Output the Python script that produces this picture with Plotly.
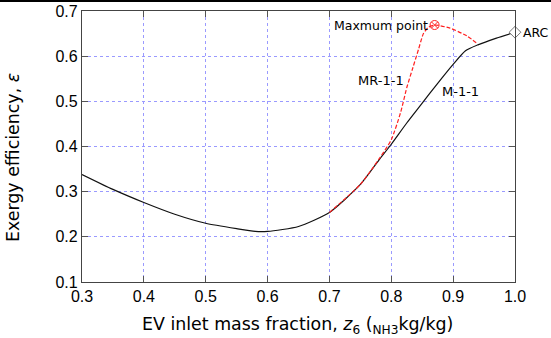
import plotly.graph_objects as go

# M-1-1 cycle: exergy efficiency vs EV inlet mass fraction
z_m11 = [0.30, 0.35, 0.40, 0.45, 0.50, 0.55, 0.58, 0.60, 0.65, 0.70, 0.75,
         0.78, 0.80, 0.825, 0.85, 0.875, 0.90, 0.92, 0.94, 0.97, 1.00]
eff_m11 = [0.338, 0.305, 0.276, 0.250, 0.230, 0.218, 0.212, 0.212, 0.223, 0.254, 0.316,
           0.370, 0.405, 0.452, 0.496, 0.540, 0.582, 0.612, 0.625, 0.640, 0.653]

# MR-1-1 cycle
z_mr11 = [0.70, 0.75, 0.78, 0.80, 0.815, 0.825, 0.835, 0.844, 0.852, 0.860,
          0.870, 0.895, 0.922, 0.940]
eff_mr11 = [0.254, 0.316, 0.372, 0.415, 0.475, 0.530, 0.575, 0.615, 0.650, 0.664,
            0.669, 0.662, 0.645, 0.627]

# Highlighted points
max_z, max_eff = 0.870, 0.669
arc_z, arc_eff = 1.0, 0.653

x_ticks = [0.3, 0.4, 0.5, 0.6, 0.7, 0.8, 0.9, 1.0]
x_labels = ["0.3", "0.4", "0.5", "0.6", "0.7", "0.8", "0.9", "1.0"]
y_ticks = [0.1, 0.2, 0.3, 0.4, 0.5, 0.6, 0.7]
y_labels = ["0.1", "0.2", "0.3", "0.4", "0.5", "0.6", "0.7"]

FONT = "Liberation Sans, Arial, sans-serif"
TITLE_FONT = "DejaVu Sans, sans-serif"

fig = go.Figure()
fig.add_trace(go.Scatter(x=z_m11, y=eff_m11, mode="lines",
                         line=dict(color="#111111", width=1.2,
                                   shape="spline", smoothing=0.6),
                         showlegend=False))
fig.add_trace(go.Scatter(x=z_mr11, y=eff_mr11, mode="lines",
                         line=dict(color="#ff2020", width=1.2, dash="4px,2px",
                                   shape="spline", smoothing=0.6),
                         showlegend=False))
fig.add_trace(go.Scatter(x=[max_z], y=[max_eff], mode="markers",
                         marker=dict(symbol="circle-x-open", size=9, color="#ff2020",
                                     line=dict(color="#ff2020", width=1)),
                         showlegend=False, cliponaxis=False))
fig.add_trace(go.Scatter(x=[arc_z], y=[arc_eff], mode="markers",
                         marker=dict(symbol="diamond", size=9, color="white",
                                     line=dict(color="#777777", width=1)),
                         showlegend=False, cliponaxis=False))

ann_font = dict(family=TITLE_FONT, size=12.5, color="black")
fig.add_annotation(x=max_z, y=max_eff, text="Maxmum point", showarrow=False,
                   xanchor="right", xshift=-5, font=ann_font)
fig.add_annotation(x=arc_z, y=arc_eff, text="ARC", showarrow=False,
                   xanchor="left", xshift=6, font=ann_font)
fig.add_annotation(x=0.783, y=0.547, text="MR-1-1", showarrow=False,
                   xanchor="center", font=dict(family=TITLE_FONT, size=13, color="black"))
fig.add_annotation(x=0.912, y=0.521, text="M-1-1", showarrow=False,
                   xanchor="center", font=dict(family=TITLE_FONT, size=13, color="black"))

# axis titles placed in paper coordinates
title_font = dict(family=TITLE_FONT, size=17.4, color="black")
fig.add_annotation(xref="paper", yref="paper", x=(13 - 82) / 433, y=1 - (158 - 11) / 271,
                   text="Exergy efficiency, <i>\u03b5</i>", textangle=-90, showarrow=False,
                   xanchor="center", yanchor="middle", font=title_font)
fig.add_annotation(xref="paper", yref="paper", x=(297.5 - 82) / 433, y=-(325 - 282) / 271,
                   text="EV inlet mass fraction, <i>z</i><sub>6</sub> (<sub>NH3</sub>kg/kg)",
                   showarrow=False, xanchor="center", yanchor="middle", font=title_font)

axis_common = dict(
    showline=True, linecolor="#444444", linewidth=1.3, mirror="ticks",
    ticks="inside", ticklen=6, tickcolor="#555555", tickwidth=1.2,
    showgrid=True, gridcolor="#9a9aff", gridwidth=1, griddash="dot",
    zeroline=False, automargin=False,
    tickfont=dict(family=FONT, size=16, color="black"),
)

fig.update_xaxes(range=[0.3, 1.0], tickvals=x_ticks, ticktext=x_labels, **axis_common)
fig.update_yaxes(range=[0.1, 0.7], tickvals=y_ticks, ticktext=y_labels, **axis_common)

# thin dark strip across the top edge of the figure
fig.add_shape(type="rect", xref="paper", yref="paper",
              x0=-0.2, x1=1.2, y0=1 + 9 / 271, y1=1 + 12 / 271,
              fillcolor="black", line=dict(width=0), layer="above")

fig.update_layout(
    template="none",
    width=551, height=338,
    margin=dict(l=82, r=36, t=11, b=56, autoexpand=False),
    plot_bgcolor="white", paper_bgcolor="white",
    font=dict(family=FONT),
    showlegend=False,
)

fig.write_html("out.html")
